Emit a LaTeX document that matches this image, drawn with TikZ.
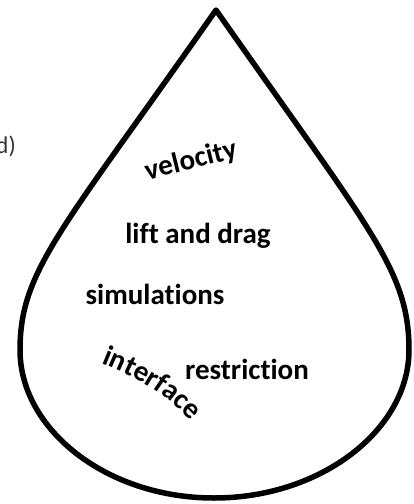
\documentclass[tikz,border=0pt]{standalone}
\usepackage{fontspec}
\setmainfont{Carlito}[Ligatures={NoCommon}]
\usetikzlibrary{decorations.text}
\tikzset{
  drop/.style={draw=black, line width=5.5pt, line join=round},
  word/.style={font=\bfseries\fontsize{29}{33}\selectfont, text=black, inner sep=0pt},
}
\begin{document}
\begin{tikzpicture}[x=1pt, y=-1pt]
\useasboundingbox (0,0) rectangle (414,504);
\clip (0,0) rectangle (414,504);
% drop outline
\draw[drop] (216,10) .. controls (370,230) and (409,270) .. (409,350)
  .. controls (409,429) and (322,498) .. (214,498)
  .. controls (106,498) and (20,429) .. (20,350)
  .. controls (20,270) and (62,230) .. cycle;
% partial label at left
\node[anchor=east, font=\fontsize{24}{28}\selectfont, text=black!80, inner sep=0pt] (d) at (16,146) {d)};
% words
\node[word, rotate=14] (vel) at (191,161) {velocity};
\node[word] (lift) at (198,236) {lift and drag};
\node[word] (sim) at (155,294) {simulations};
\node[word] (res) at (247,369) {restriction};
\path[decorate, decoration={text along path, text align=center,
   text={|\bfseries\fontsize{29}{33}\selectfont|interface}}]
   (88,358) .. controls (125,372) and (168,390) .. (200,432);
\end{tikzpicture}
\end{document}
